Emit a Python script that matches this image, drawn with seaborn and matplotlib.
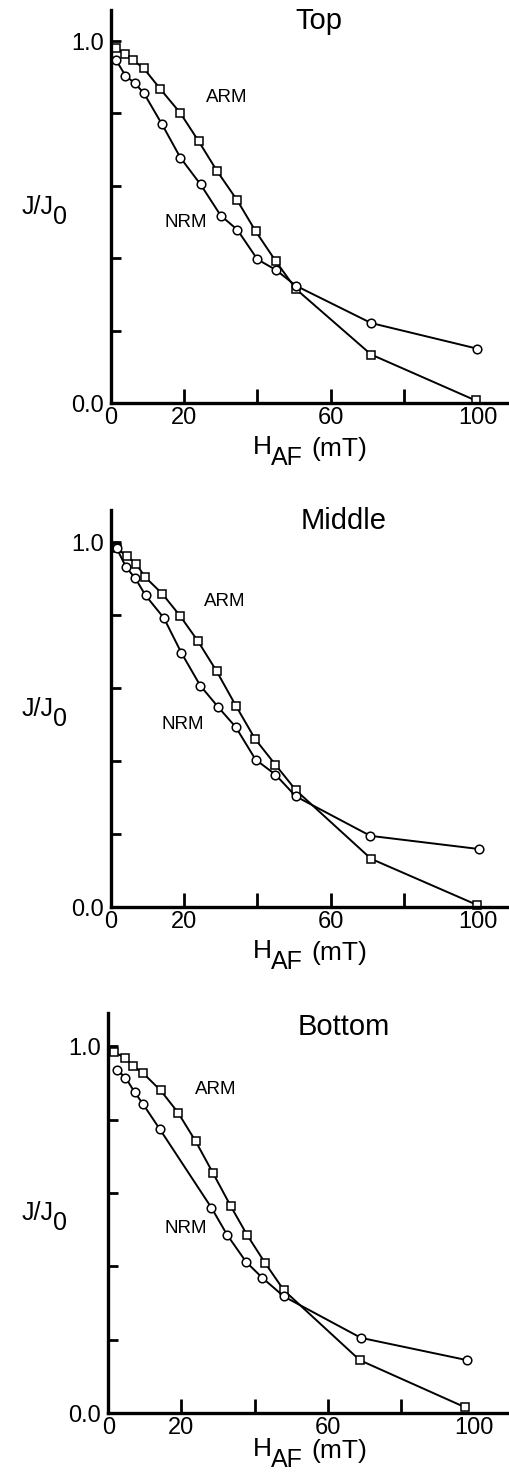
import matplotlib

matplotlib.use("Agg")
import matplotlib.pyplot as plt
import seaborn as sns

# AF demagnetisation steps (mT) and normalised intensity J/J0
TOP_ARM_H = [1.5, 4, 6, 9, 13.5, 19, 24, 29, 34.5, 39.5, 45, 50.5, 71, 99.5]
TOP_ARM_J = [0.98, 0.965, 0.948, 0.925, 0.868, 0.801, 0.723, 0.641, 0.560, 0.475, 0.392, 0.315, 0.134, 0.007]
TOP_NRM_H = [1.5, 4, 6.5, 9, 14, 19, 24.5, 30, 34.5, 40, 45, 50.5, 71, 100]
TOP_NRM_J = [0.947, 0.905, 0.884, 0.857, 0.770, 0.678, 0.604, 0.518, 0.479, 0.397, 0.368, 0.324, 0.221, 0.150]

MID_ARM_H = [1.6, 4.4, 6.9, 9.4, 14.1, 18.9, 23.7, 28.9, 34.1, 39.4, 44.9, 50.5, 71, 99.8]
MID_ARM_J = [0.984, 0.961, 0.941, 0.904, 0.858, 0.798, 0.730, 0.646, 0.552, 0.460, 0.390, 0.320, 0.132, 0.006]
MID_NRM_H = [1.6, 4.2, 6.7, 9.5, 14.5, 19.3, 24.4, 29.3, 34.1, 39.5, 44.9, 50.5, 70.8, 100.3]
MID_NRM_J = [0.984, 0.931, 0.901, 0.854, 0.792, 0.696, 0.607, 0.548, 0.493, 0.404, 0.363, 0.303, 0.195, 0.159]

BOT_ARM_H = [1.5, 4.5, 6.8, 9.5, 14.3, 19.1, 23.9, 28.6, 33.5, 38, 42.9, 48, 68.8, 97.5]
BOT_ARM_J = [0.985, 0.969, 0.946, 0.927, 0.880, 0.819, 0.741, 0.655, 0.564, 0.485, 0.409, 0.335, 0.144, 0.016]
BOT_NRM_H = [2.3, 4.7, 7.2, 9.4, 14.1, 28.2, 32.5, 37.7, 42.1, 48, 69.1, 98.2]
BOT_NRM_J = [0.936, 0.915, 0.875, 0.844, 0.774, 0.560, 0.486, 0.412, 0.369, 0.318, 0.205, 0.144]

PANEL_TITLES = ["Top", "Middle", "Bottom"]
X_TICKS = [0, 20, 40, 60, 80, 100]
X_TICK_LABELS = ["0", "20", "", "60", "", "100"]

W, H = 509, 1474

PANELS = [
    dict(title="Top", arm=(TOP_ARM_H, TOP_ARM_J), nrm=(TOP_NRM_H, TOP_NRM_J),
         box=(110.7, 10, 509, 403), ytop=1.086, xmax=108.6,
         tpos=(0.523, 0.972), arm_lab=(31.6, 0.843), nrm_lab=(20.5, 0.50), xl_dy=0),
    dict(title="Middle", arm=(MID_ARM_H, MID_ARM_J), nrm=(MID_NRM_H, MID_NRM_J),
         box=(110.7, 510, 509, 907), ytop=1.088, xmax=108.6,
         tpos=(0.584, 0.972), arm_lab=(31.2, 0.836), nrm_lab=(19.6, 0.501), xl_dy=0),
    dict(title="Bottom", arm=(BOT_ARM_H, BOT_ARM_J), nrm=(BOT_NRM_H, BOT_NRM_J),
         box=(108.3, 1013, 509, 1413), ytop=1.091, xmax=109.6,
         tpos=(0.588, 0.965), arm_lab=(29.4, 0.881), nrm_lab=(21.2, 0.504), xl_dy=-8),
]


def setup_style() -> None:
    sns.set_theme(style="ticks")
    plt.rcParams["font.family"] = ["Liberation Sans", "DejaVu Sans"]
    plt.rcParams["axes.linewidth"] = 2.4
    plt.rcParams["axes.edgecolor"] = "black"
    plt.rcParams["text.color"] = "black"
    plt.rcParams["xtick.color"] = "black"
    plt.rcParams["ytick.color"] = "black"


def draw_panel(fig, p) -> None:
    left, top, right, bottom = p["box"]
    ax = fig.add_axes([left / W, 1 - bottom / H, (right - left) / W, (bottom - top) / H])
    ax.patch.set_alpha(0)

    for (hx, jy), marker in [(p["arm"], "s"), (p["nrm"], "o")]:
        sns.lineplot(
            x=hx, y=jy, ax=ax, color="black", lw=1.4, marker=marker,
            markersize=6.2, markerfacecolor="white", markeredgecolor="black",
            markeredgewidth=1.1, sort=False, estimator=None, clip_on=False,
        )

    ax.set_xlim(0, p["xmax"])
    ax.set_ylim(0, p["ytop"])
    sns.despine(ax=ax)

    ax.set_xticks(X_TICKS)
    ax.set_xticklabels(X_TICK_LABELS)
    ax.set_yticks([0, 1.0])
    ax.set_yticklabels(["0.0", "1.0"])
    ax.set_yticks([0.2, 0.4, 0.6, 0.8], minor=True)
    ax.tick_params(axis="x", direction="in", length=10, width=2, labelsize=17, pad=3)
    ax.tick_params(axis="y", which="both", direction="in", length=7, width=2, labelsize=17, pad=5)
    for t in ax.xaxis.get_major_ticks():
        if t.get_loc() in (0, 100):
            t.tick1line.set_visible(False)
    ax.set_xlabel("")
    ax.set_ylabel("")

    ax.text(p["tpos"][0], p["tpos"][1], p["title"], transform=ax.transAxes,
            ha="center", va="center", fontsize=21)
    ax.text(*p["arm_lab"], "ARM", ha="center", va="center", fontsize=13.5)
    ax.text(*p["nrm_lab"], "NRM", ha="center", va="center", fontsize=13.5)

    # y label J/J0 and x label H_AF (mT), subscripts drawn as their own texts
    h = bottom - top
    w = right - left
    dy = p["xl_dy"]
    ax.text((54 - left) / w, 0.50, "J/J", transform=ax.transAxes,
            ha="right", va="center", fontsize=18)
    ax.text((53 - left) / w, 0.474, "0", transform=ax.transAxes,
            ha="left", va="center", fontsize=18)
    ax.text((272 - left) / w, (-44 - dy) / h, "H", transform=ax.transAxes,
            ha="right", va="center", fontsize=19)
    ax.text((271 - left) / w, (-55 - dy) / h, "AF", transform=ax.transAxes,
            ha="left", va="center", fontsize=18)
    ax.text((311 - left) / w, (-46 - dy) / h, "(mT)", transform=ax.transAxes,
            ha="left", va="center", fontsize=19)


def main() -> None:
    setup_style()
    fig = plt.figure(figsize=(W / 100, H / 100), dpi=100)
    fig.patch.set_facecolor("white")
    for p in PANELS:
        draw_panel(fig, p)
    fig.savefig("out.png", dpi=100)
    plt.close(fig)


if __name__ == "__main__":
    main()
